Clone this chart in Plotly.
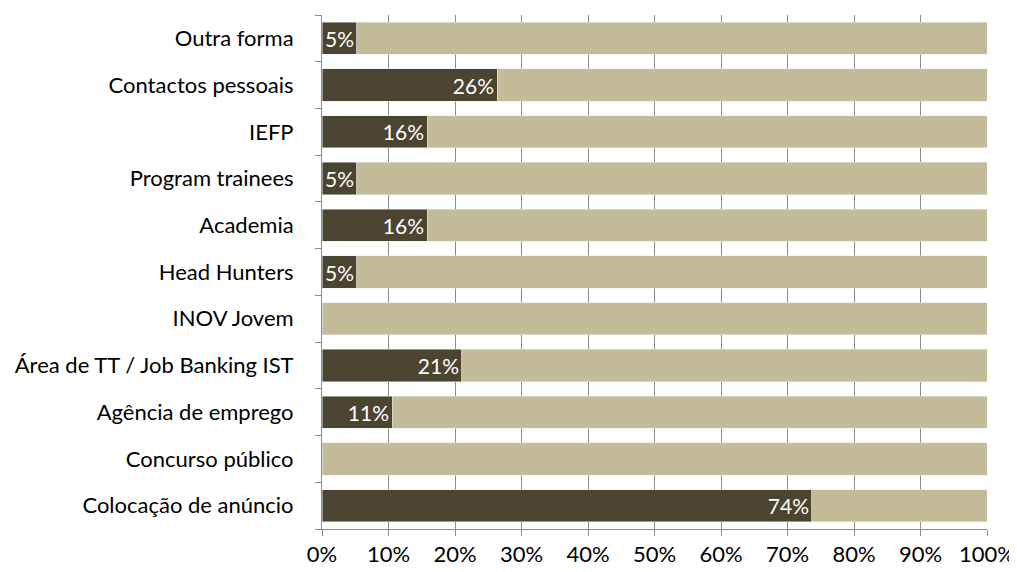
import plotly.graph_objects as go

categories = ["Colocação de anúncio", "Concurso público", "Agência de emprego",
              "Área de TT / Job Banking IST", "INOV Jovem", "Head Hunters",
              "Academia", "Program trainees", "IEFP", "Contactos pessoais", "Outra forma"]
yes_values = [73.68, 0, 10.53, 21.05, 0, 5.26, 15.79, 5.26, 15.79, 26.32, 5.26]
no_values = [26.32, 100, 89.47, 78.95, 100, 94.74, 84.21, 94.74, 84.21, 73.68, 94.74]
tick_vals = [0, 10, 20, 30, 40, 50, 60, 70, 80, 90, 100]
tick_text = [f"{v}%" for v in tick_vals]

dark = "#4B4430"
light = "#C4BC98"
font_family = "Lato, 'Open Sans', sans-serif"

labels = [f"{round(v)}%" if v > 0 else "" for v in yes_values]

fig = go.Figure()
fig.add_trace(go.Bar(
    y=categories, x=yes_values, orientation="h", marker_color=dark,
    text=labels, textposition="inside", insidetextanchor="end",
    constraintext="none", textangle=0,
    textfont=dict(color="white", size=21, family=font_family),
    hoverinfo="skip", cliponaxis=False,
))
fig.add_trace(go.Bar(
    y=categories, x=no_values, orientation="h", marker_color=light,
    hoverinfo="skip", textposition="none",
))

fig.update_layout(
    barmode="stack", bargap=0.31, showlegend=False,
    width=1009, height=564,
    margin=dict(l=314, r=30, t=7, b=43),
    plot_bgcolor="white", paper_bgcolor="white",
    font=dict(family=font_family, size=22, color="black"),
    uniformtext=dict(mode=False),
)
fig.update_xaxes(
    range=[0, 100], tickvals=tick_vals, ticktext=tick_text,
    showgrid=True, gridcolor="#8C8C8C", gridwidth=1,
    showline=True, linecolor="#8C8C8C", linewidth=1,
    ticks="outside", ticklen=6, tickcolor="#8C8C8C",
    zeroline=False, fixedrange=True, automargin=False,
)
fig.update_yaxes(
    type="category", categoryorder="array", categoryarray=categories,
    showline=True, linecolor="#8C8C8C", linewidth=1,
    ticks="outside", ticklen=6, tickcolor="#8C8C8C", tickson="boundaries",
    ticklabelstandoff=23, showgrid=False, fixedrange=True, automargin=False,
)

fig.write_html("out.html")
